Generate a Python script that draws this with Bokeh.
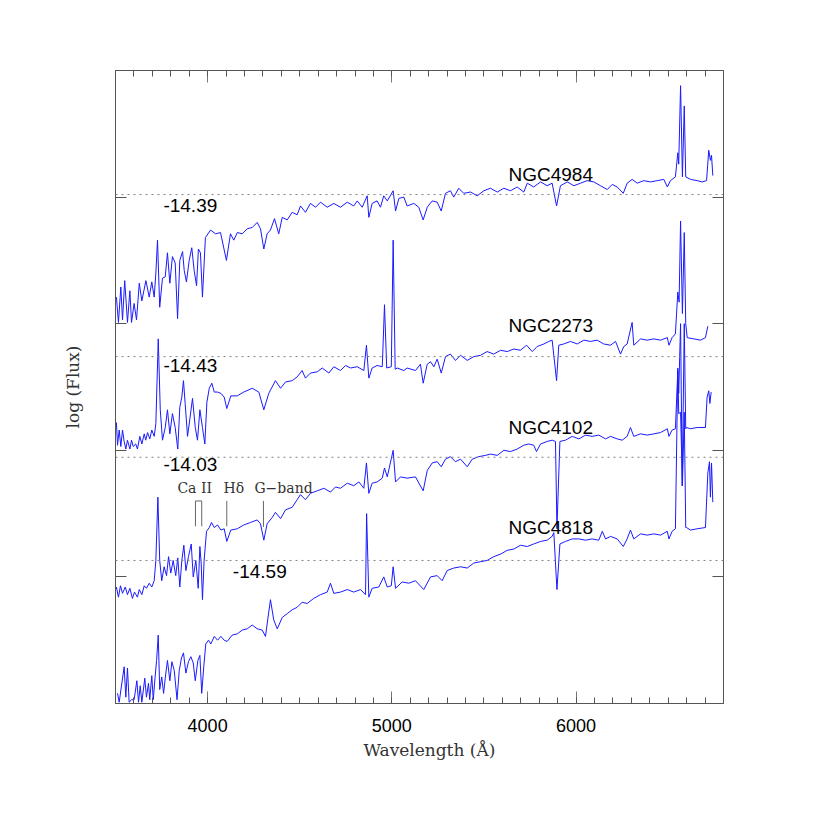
from bokeh.plotting import figure
from bokeh.models import (Range1d, LinearAxis, SingleIntervalTicker, FixedTicker, Title,
                          Span, CustomJSTickFormatter)
from bokeh.embed import file_html
from bokeh.resources import INLINE
from bokeh.core.properties import value

# ---------------- data (wavelength in Angstrom, offset log flux) ----------------
wl_4984 = [3505,3516,3529,3538,3550,3565,3578,3587,3601,3614,3629,3643,3665,3683,3697,3710,3719,3728,3740,3755,
           3770,3782,3795,3809,3824,3837,3849,3864,3873,3885,3900,3914,3927,3940,3950,3961,3972,3988,4016,4043,
           4070,4102,4124,4142,4161,4188,4215,4242,4269,4287,4305,4323,4341,4363,4386,4405,4432,4459,4486,4504,
           4531,4558,4586,4613,4649,4685,4721,4758,4793,4812,4839,4866,4875,4893,4920,4938,4956,4975,5007,5020,
           5038,5065,5083,5119,5146,5170,5192,5219,5246,5268,5291,5318,5336,5363,5390,5427,5463,5499,5535,5572,
           5608,5644,5680,5716,5735,5770,5807,5843,5870,5894,5915,5952,5988,6024,6060,6096,6132,6169,6196,6223,
           6256,6277,6304,6332,6367,6404,6440,6476,6495,6512,6539,6552,6557,6567,6577,6587,6595,6621,6657,6684,
           6708,6720,6729,6735,6742]
fx_4984 = [3.21,3.01,3.29,3.03,3.34,3.01,3.26,3.01,3.16,3.03,3.32,3.18,3.34,3.21,3.33,3.21,3.40,3.66,3.13,3.36,
           3.37,3.56,3.32,3.53,3.48,3.04,3.50,3.57,3.42,3.33,3.50,3.60,3.42,3.30,3.59,3.56,3.21,3.68,3.74,3.71,
           3.72,3.50,3.71,3.66,3.72,3.71,3.75,3.76,3.80,3.75,3.59,3.71,3.74,3.83,3.71,3.84,3.82,3.88,3.86,3.93,
           3.88,3.95,3.92,3.96,3.92,3.95,3.92,3.96,3.93,3.97,3.92,4.01,3.84,3.95,3.97,3.92,4.01,3.97,4.05,3.89,
           3.99,4.00,3.93,3.95,3.92,3.82,3.92,3.97,3.96,3.89,4.03,4.05,4.00,4.07,4.03,4.04,4.01,4.05,4.07,4.04,
           4.07,4.05,4.08,4.04,4.11,4.08,4.12,4.09,4.11,3.93,4.09,4.12,4.09,4.11,4.13,4.12,4.09,4.06,4.10,4.08,
           4.03,4.11,4.14,4.11,4.13,4.12,4.13,4.14,4.08,4.13,4.16,4.35,4.26,4.88,4.16,4.72,4.16,4.14,4.13,4.12,
           4.13,4.37,4.29,4.33,4.17]

wl_2273 = [3505,3511,3520,3529,3538,3547,3556,3565,3578,3587,3596,3610,3619,3632,3643,3656,3664,3674,3686,3697,
           3710,3719,3732,3743,3755,3770,3782,3795,3809,3824,3838,3849,3860,3869,3878,3891,3903,3918,3933,3945,
           3958,3972,3985,3996,4009,4023,4036,4054,4072,4090,4104,4126,4161,4196,4242,4278,4305,4332,4368,4396,
           4423,4459,4486,4513,4531,4558,4595,4622,4658,4685,4721,4749,4775,4812,4848,4862,4875,4893,4920,4948,
           4960,4972,4997,5007,5018,5029,5065,5083,5128,5155,5170,5192,5210,5228,5246,5268,5291,5318,5345,5373,
           5409,5445,5481,5517,5553,5590,5626,5662,5698,5731,5762,5789,5825,5852,5870,5894,5906,5933,5970,6006,
           6042,6078,6114,6150,6187,6214,6241,6259,6277,6304,6313,6350,6386,6422,6458,6495,6504,6521,6539,6552,
           6559,6567,6577,6587,6595,6603,6639,6675,6702,6715]
fx_2273 = [2.22,2.04,2.16,2.03,2.16,2.07,2.01,2.08,2.01,2.08,2.03,2.05,2.01,2.11,2.05,2.13,2.08,2.14,2.09,2.16,
           2.11,2.21,2.88,2.32,2.08,2.18,2.32,2.13,2.29,2.18,2.01,2.34,2.42,2.55,2.37,2.11,2.24,2.41,2.18,2.08,
           2.32,2.18,2.05,2.38,2.49,2.53,2.46,2.46,2.45,2.42,2.33,2.43,2.43,2.46,2.49,2.46,2.32,2.45,2.55,2.49,
           2.54,2.55,2.58,2.63,2.57,2.61,2.62,2.65,2.61,2.66,2.63,2.67,2.65,2.66,2.63,2.83,2.57,2.65,2.67,2.66,
           3.15,2.65,2.66,3.66,2.64,2.65,2.63,2.65,2.63,2.68,2.53,2.68,2.70,2.66,2.72,2.61,2.74,2.76,2.71,2.75,
           2.71,2.74,2.75,2.78,2.76,2.79,2.78,2.80,2.79,2.83,2.78,2.82,2.84,2.86,2.87,2.55,2.83,2.84,2.86,2.84,
           2.87,2.86,2.87,2.84,2.83,2.86,2.76,2.82,2.84,3.01,2.83,2.88,2.87,2.88,2.87,2.89,2.83,2.89,2.92,3.25,
           3.17,3.81,3.08,3.72,3.00,2.89,2.88,2.87,2.89,2.98]

wl_4102 = [3505,3516,3527,3538,3553,3565,3578,3592,3603,3619,3629,3643,3656,3668,3683,3697,3710,3719,3730,3740,
           3751,3764,3777,3788,3800,3813,3827,3838,3849,3860,3871,3882,3896,3911,3922,3936,3949,3958,3965,3972,
           3981,3994,4009,4021,4036,4054,4072,4090,4104,4126,4161,4196,4233,4269,4287,4305,4323,4351,4368,4396,
           4423,4459,4486,4504,4531,4558,4595,4631,4667,4694,4721,4758,4793,4821,4848,4862,4875,4893,4920,4948,
           4960,4975,5007,5020,5047,5083,5128,5170,5192,5219,5246,5268,5291,5318,5345,5373,5409,5436,5472,5508,
           5535,5572,5608,5644,5680,5716,5743,5770,5785,5807,5843,5870,5888,5896,5912,5942,5979,6015,6051,6087,
           6123,6160,6187,6223,6250,6277,6295,6313,6350,6386,6422,6458,6495,6504,6521,6539,6552,6557,6567,6576,
           6587,6595,6599,6621,6657,6702,6711,6720,6726,6733]
fx_4102 = [0.92,0.84,0.93,0.87,0.92,0.86,0.91,0.83,0.88,0.84,0.90,0.86,0.93,0.91,0.95,0.92,0.97,1.13,1.63,1.13,
           0.97,1.08,1.01,1.16,1.03,1.13,1.01,1.15,0.92,1.13,1.25,1.05,1.16,1.26,1.00,1.13,0.91,1.24,1.11,0.82,
           1.13,1.36,1.39,1.43,1.39,1.41,1.37,1.38,1.28,1.37,1.38,1.41,1.43,1.45,1.42,1.29,1.42,1.47,1.51,1.46,
           1.53,1.55,1.61,1.65,1.61,1.66,1.68,1.70,1.67,1.71,1.70,1.74,1.72,1.75,1.70,1.90,1.66,1.74,1.75,1.78,
           1.86,1.79,2.00,1.75,1.79,1.78,1.79,1.68,1.84,1.90,1.91,1.87,1.93,1.95,1.91,1.93,1.87,1.93,1.95,1.96,
           1.97,1.96,2.00,1.99,2.01,2.04,2.05,2.04,1.99,2.05,2.07,2.08,2.07,1.38,2.07,2.08,2.11,2.09,2.12,2.11,
           2.12,2.09,2.11,2.09,2.08,2.11,2.18,2.11,2.13,2.12,2.13,2.14,2.17,2.11,2.16,2.17,2.63,2.45,3.00,1.72,
           3.00,2.17,2.18,2.17,2.18,2.18,2.42,2.47,2.37,2.46]

wl_4818 = [3511,3520,3547,3556,3565,3574,3588,3601,3616,3625,3634,3643,3659,3668,3679,3686,3697,3705,3715,3723,
           3732,3740,3751,3761,3770,3782,3795,3806,3819,3834,3846,3858,3869,3882,3896,3909,3922,3933,3947,3958,
           3968,3979,3990,4005,4017,4036,4054,4072,4090,4106,4133,4161,4188,4215,4242,4269,4296,4314,4341,4359,
           4378,4405,4432,4459,4486,4513,4540,4576,4613,4649,4667,4685,4721,4758,4793,4830,4857,4863,4875,4893,
           4929,4956,4975,4997,5007,5020,5056,5092,5128,5173,5210,5246,5273,5300,5336,5373,5409,5445,5481,5517,
           5553,5590,5626,5662,5698,5735,5770,5807,5843,5870,5879,5896,5912,5942,5979,6015,6051,6087,6123,6142,
           6160,6187,6223,6256,6277,6295,6313,6350,6386,6422,6458,6495,6504,6521,6539,6552,6557,6567,6577,6587,
           6595,6599,6621,6657,6702,6715,6724,6729,6735,6742]
fx_4818 = [0.08,0.01,0.29,0.05,0.28,0.01,0.03,0.03,0.18,0.01,0.14,0.01,0.20,0.05,0.16,0.03,0.22,0.03,0.21,0.34,
           0.54,0.11,0.21,0.08,0.20,0.34,0.18,0.33,0.26,0.03,0.26,0.36,0.40,0.24,0.33,0.37,0.32,0.18,0.34,0.38,
           0.08,0.29,0.47,0.50,0.47,0.53,0.50,0.53,0.50,0.49,0.54,0.55,0.58,0.59,0.62,0.59,0.58,0.53,0.82,0.66,
           0.59,0.68,0.71,0.74,0.76,0.80,0.79,0.83,0.86,0.88,0.95,0.87,0.88,0.90,0.88,0.90,0.86,1.50,0.84,0.91,
           0.92,1.00,0.92,0.93,1.08,0.91,0.96,0.95,0.97,0.90,1.00,1.01,0.97,1.05,1.07,1.08,1.07,1.11,1.12,1.13,
           1.16,1.18,1.21,1.22,1.25,1.24,1.26,1.28,1.29,1.32,1.35,0.90,1.26,1.28,1.30,1.30,1.29,1.30,1.29,1.36,
           1.30,1.32,1.30,1.24,1.30,1.37,1.30,1.34,1.33,1.34,1.33,1.36,1.30,1.36,1.38,2.65,2.29,2.30,1.72,2.30,
           1.39,1.39,1.37,1.38,1.39,1.82,1.91,1.63,1.90,1.59]

names = ["NGC4984", "NGC2273", "NGC4102", "NGC4818"]
ref_levels = [4.02, 2.74, 1.945, 1.13]
ref_labels = ["-14.39", "-14.43", "-14.03", "-14.59"]
ref_label_x = [3760, 3760, 3760, 4137]
ref_label_y = [3.933, 2.668, 1.884, 1.044]
name_x = [5633, 5633, 5633, 5633]
name_y = [4.181, 2.987, 2.184, 1.392]

feat_names = ["Ca II", "H\u03b4", "G\u2212band"]
feat_label_x = [3836, 4086, 4254]
feat_label_y = [1.70, 1.70, 1.70]
feat_xs = [[3934, 3934, 3968, 3968], [4104, 4104], [4303, 4303]]
feat_ys = [[1.40, 1.60, 1.60, 1.40], [1.40, 1.60], [1.395, 1.60]]

# ---------------- figure ----------------
frame_col = "#555555"
p = figure(frame_width=608, frame_height=633,
           x_range=Range1d(3500, 6800), y_range=Range1d(0, 5),
           output_backend="svg", toolbar_location=None,
           x_axis_location=None, y_axis_location=None,
           min_border_left=115, min_border_right=85, min_border_top=70, min_border_bottom=105)
p.outline_line_color = frame_col
p.outline_line_width = 1
p.grid.grid_line_color = None
p.background_fill_color = "white"
p.border_fill_color = "white"

blank = CustomJSTickFormatter(code="return ''")

def xaxis(labels):
    ax = LinearAxis(ticker=SingleIntervalTicker(interval=1000, num_minor_ticks=10),
                    major_tick_in=12, major_tick_out=0, minor_tick_in=6, minor_tick_out=0,
                    axis_line_color=frame_col, major_tick_line_color="#777777",
                    minor_tick_line_color=frame_col)
    if labels:
        ax.major_label_standoff = 15
        ax.major_label_text_font = "Liberation Sans"
        ax.major_label_text_font_size = "18px"
        ax.major_label_text_color = "black"
    else:
        ax.formatter = blank
        ax.major_label_text_font_size = "1px"
    return ax

def yaxis(label=None):
    ax = LinearAxis(ticker=FixedTicker(ticks=[1, 2, 3, 4], minor_ticks=[]),
                    major_tick_in=11, major_tick_out=0, minor_tick_in=0, minor_tick_out=0,
                    axis_line_color=frame_col, major_tick_line_color=frame_col,
                    formatter=blank, major_label_text_font_size="1px")
    if label:
        ax.axis_label = label
        ax.axis_label_text_font = "DejaVu Serif"
        ax.axis_label_text_font_style = "normal"
        ax.axis_label_text_font_size = "17px"
        ax.axis_label_text_color = "#333333"
        ax.axis_label_standoff = 33
    return ax

p.add_layout(xaxis(True), "below")
p.add_layout(xaxis(False), "above")
p.add_layout(yaxis("log (Flux)"), "left")
p.add_layout(yaxis(), "right")

p.add_layout(Title(text="Wavelength (\u00c5)", align="left", offset=248,
                   text_font="DejaVu Serif", text_font_style="normal",
                   text_font_size="17px", text_color="#333333", standoff=6), "below")

for lev in ref_levels:
    p.add_layout(Span(location=lev, dimension="width", line_color="#808080",
                      line_dash="2 4", line_width=1))

for wl, fx in [(wl_4984, fx_4984), (wl_2273, fx_2273), (wl_4102, fx_4102), (wl_4818, fx_4818)]:
    p.line(wl, fx, line_color="#1a1aff", line_width=1)

p.text(x=ref_label_x, y=ref_label_y, text=ref_labels, text_font=value("Liberation Sans"),
       text_font_size="19px", text_color="black", text_baseline="alphabetic", text_align="left")
p.text(x=name_x, y=name_y, text=names, text_font=value("Liberation Sans"),
       text_font_size="19px", text_color="black", text_baseline="alphabetic", text_align="left")

p.multi_line(xs=feat_xs, ys=feat_ys, line_color="#666666", line_width=1)
p.text(x=feat_label_x, y=feat_label_y, text=feat_names, text_font=value("DejaVu Serif"),
       text_font_size="14px", text_color="#333333", text_baseline="alphabetic", text_align="left")

open("out.html", "w").write(file_html(p, INLINE))
